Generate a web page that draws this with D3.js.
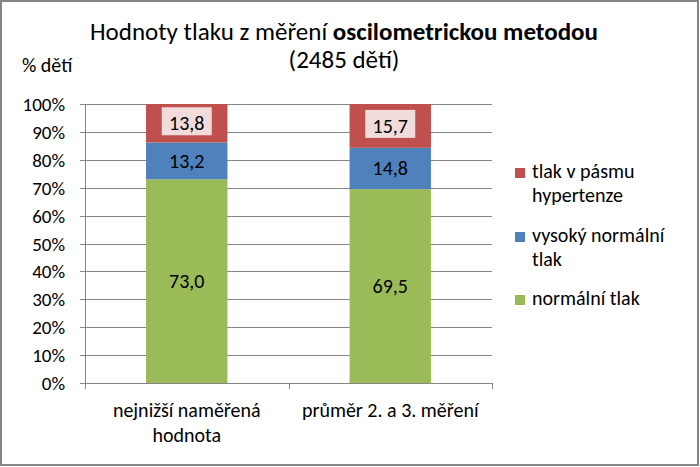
<!DOCTYPE html>
<html><head><meta charset="utf-8">
<script src="https://cdn.jsdelivr.net/npm/d3@7"></script>
<style>body{margin:0;background:#fff}svg{display:block}text{font-family:Carlito,Lato,"Open Sans",sans-serif;fill:#000}</style>
</head><body><svg id="c" width="700" height="467"></svg>
<script>
const categories = [["nejnižší naměřená","hodnota"],["průměr 2. a 3. měření"]];
const seriesNames = ["normální tlak","vysoký normální tlak","tlak v pásmu hypertenze"];
const normal = [73.0, 69.5];
const highNormal = [13.2, 14.8];
const hyper = [13.8, 15.7];
const yTicks = [0,10,20,30,40,50,60,70,80,90,100];
const colors = ["#9bbb59","#4f81bd","#c0504d"];
const legendLines = [["tlak v pásmu","hypertenze"],["vysoký normální","tlak"],["normální tlak"]];

const svg = d3.select("#c");
const L=85,R=492,T=104,B=383;
const x = d3.scaleBand().domain([0,1]).range([L,R]).paddingInner(0.6).paddingOuter(0.3);
const xc = d3.scaleBand().domain([0,1]).range([L,R]);
const y = d3.scaleLinear().domain([0,100]).range([B,T]);

// grid
svg.append("g").selectAll("line").data(yTicks).join("line")
  .attr("x1",L-5).attr("x2",R).attr("y1",d=>Math.round(y(d))+0.5).attr("y2",d=>Math.round(y(d))+0.5)
  .attr("stroke","#868686").attr("stroke-width",1);
// y axis
svg.append("line").attr("x1",L+0.5).attr("x2",L+0.5).attr("y1",T).attr("y2",B).attr("stroke","#868686");
svg.append("g").selectAll("text").data(yTicks).join("text")
  .attr("x",L-20).attr("y",d=>y(d)+7).attr("text-anchor","end").attr("font-size",19).text(d=>d+"%");
// x axis ticks
svg.append("g").selectAll("line").data([L,xc(1),R]).join("line")
  .attr("x1",d=>Math.round(d)+0.5).attr("x2",d=>Math.round(d)+0.5).attr("y1",B).attr("y2",B+6).attr("stroke","#868686");

const stackData = [0,1].map(i=>({i, v:[normal[i],highNormal[i],hyper[i]]}));
stackData.forEach(d=>{
  let acc=0;
  d.v.forEach((v,s)=>{
    const y0=y(acc), y1=y(acc+v);
    svg.append("rect").attr("x",x(d.i)).attr("width",x.bandwidth()).attr("y",y1).attr("height",y0-y1).attr("fill",colors[s]);
    const cx=x(d.i)+x.bandwidth()/2, cy=(y0+y1)/2;
    const label=v.toFixed(1).replace(".",",");
    if(s===2){
      svg.append("rect").attr("x",cx-25).attr("y",cy-16).attr("width",50).attr("height",28).attr("fill","#f2dcdb");
    }
    svg.append("text").attr("x",cx).attr("y",cy+7).attr("text-anchor","middle").attr("font-size",20).text(label);
    acc+=v;
  });
});
// baseline
svg.append("line").attr("x1",L-5).attr("x2",R).attr("y1",B+0.5).attr("y2",B+0.5).attr("stroke","#868686");

// x labels
categories.forEach((lines,i)=>{
  lines.forEach((t,j)=>{
    svg.append("text").attr("x",xc(i)+xc.bandwidth()/2).attr("y",417+j*25).attr("text-anchor","middle").attr("font-size",20).text(t);
  });
});
// title
const t1=svg.append("text").attr("x",344).attr("y",40).attr("text-anchor","middle").attr("font-size",25);
t1.append("tspan").text("Hodnoty tlaku z měření ");
t1.append("tspan").attr("font-weight","bold").text("oscilometrickou metodou");
svg.append("text").attr("x",344).attr("y",68).attr("text-anchor","middle").attr("font-size",25).text("(2485 dětí)");
svg.append("text").attr("x",22).attr("y",72).attr("font-size",20).text("% dětí");

// legend
const legY=[178,242,305];
legendLines.forEach((lines,k)=>{
  const c=colors[2-k];
  svg.append("rect").attr("x",515).attr("y",legY[k]-10).attr("width",10).attr("height",10).attr("fill",c);
  lines.forEach((t,j)=>svg.append("text").attr("x",532).attr("y",legY[k]+j*24).attr("font-size",20).text(t));
});
// border
svg.append("rect").attr("x",1).attr("y",1).attr("width",697).attr("height",464).attr("fill","none").attr("stroke","#868686").attr("stroke-width",2);
</script></body></html>
